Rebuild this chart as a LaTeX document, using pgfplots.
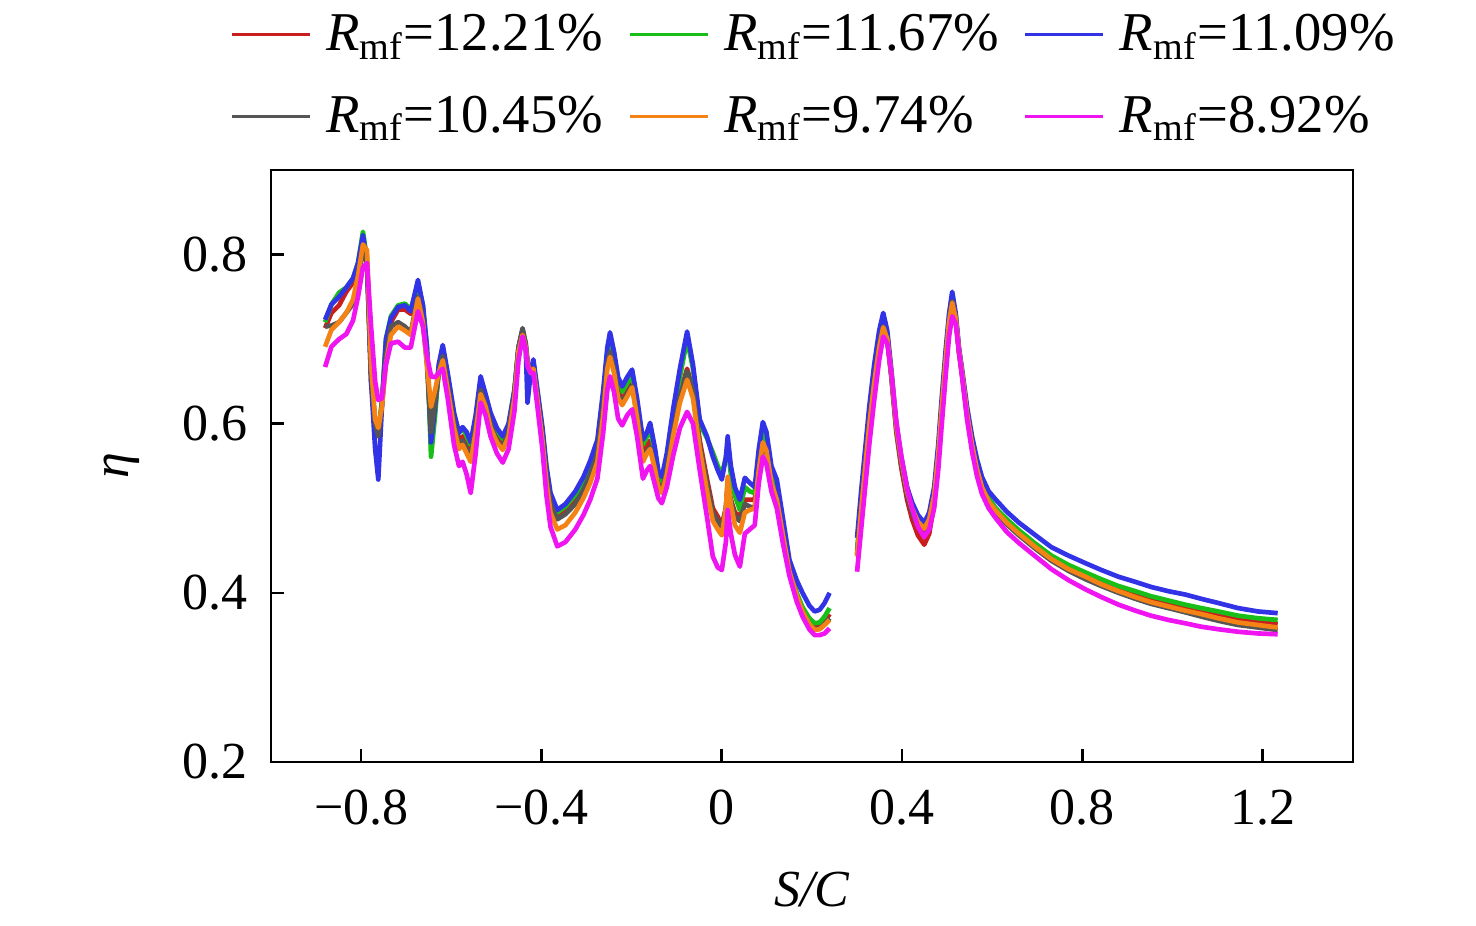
\documentclass[border=0pt]{standalone}
\usepackage{fontspec}
\setmainfont{Liberation Serif}
\usepackage{pgfplots}
\pgfplotsset{compat=1.18}
\usepackage{pgfplotstable}
\definecolor{cR}{RGB}{200,30,30}
\definecolor{cG}{RGB}{25,190,25}
\definecolor{cB}{RGB}{50,50,230}
\definecolor{cK}{RGB}{85,85,85}
\definecolor{cO}{RGB}{245,130,20}
\definecolor{cM}{RGB}{240,20,240}
\pgfplotstableread{
x b g r k o m
-0.880 0.723 0.720 0.713 0.715 0.691 0.667
-0.866 0.741 0.741 0.731 0.716 0.711 0.691
-0.849 0.750 0.755 0.740 0.720 0.720 0.700
-0.833 0.761 0.761 0.756 0.731 0.731 0.706
-0.818 0.772 0.772 0.767 0.742 0.747 0.722
-0.807 0.790 0.790 0.785 0.770 0.775 0.750
-0.796 0.823 0.827 0.818 0.805 0.812 0.785
-0.787 0.790 0.795 0.790 0.790 0.805 0.790
-0.778 0.650 0.660 0.650 0.660 0.670 0.715
-0.769 0.570 0.600 0.600 0.600 0.605 0.650
-0.762 0.534 0.590 0.590 0.585 0.595 0.628
-0.754 0.620 0.625 0.625 0.620 0.620 0.630
-0.745 0.700 0.700 0.690 0.680 0.670 0.670
-0.734 0.725 0.727 0.720 0.715 0.705 0.695
-0.718 0.738 0.740 0.735 0.720 0.715 0.697
-0.703 0.740 0.742 0.735 0.715 0.710 0.690
-0.690 0.733 0.735 0.730 0.708 0.705 0.690
-0.674 0.770 0.765 0.760 0.750 0.748 0.733
-0.663 0.740 0.740 0.735 0.720 0.720 0.715
-0.654 0.690 0.690 0.680 0.670 0.670 0.680
-0.645 0.578 0.561 0.580 0.590 0.620 0.656
-0.636 0.620 0.610 0.620 0.625 0.640 0.655
-0.628 0.670 0.665 0.660 0.660 0.660 0.660
-0.619 0.693 0.690 0.685 0.680 0.675 0.665
-0.608 0.660 0.655 0.650 0.645 0.640 0.630
-0.594 0.613 0.610 0.605 0.600 0.595 0.575
-0.583 0.589 0.590 0.580 0.575 0.570 0.550
-0.575 0.596 0.595 0.585 0.580 0.575 0.555
-0.566 0.590 0.585 0.575 0.570 0.565 0.540
-0.557 0.578 0.575 0.565 0.560 0.555 0.518
-0.546 0.610 0.605 0.600 0.595 0.590 0.565
-0.535 0.656 0.650 0.645 0.640 0.635 0.625
-0.524 0.635 0.632 0.628 0.622 0.620 0.610
-0.513 0.613 0.610 0.605 0.600 0.595 0.585
-0.499 0.595 0.592 0.587 0.580 0.578 0.565
-0.486 0.585 0.582 0.578 0.572 0.569 0.554
-0.473 0.600 0.598 0.595 0.590 0.585 0.570
-0.460 0.640 0.640 0.635 0.635 0.630 0.615
-0.451 0.690 0.690 0.690 0.690 0.685 0.675
-0.442 0.711 0.710 0.710 0.713 0.705 0.703
-0.435 0.690 0.695 0.690 0.695 0.690 0.688
-0.431 0.625 0.670 0.670 0.675 0.670 0.668
-0.424 0.660 0.665 0.665 0.660 0.660 0.660
-0.418 0.676 0.672 0.668 0.665 0.665 0.660
-0.409 0.640 0.636 0.632 0.630 0.628 0.620
-0.398 0.596 0.592 0.588 0.585 0.580 0.570
-0.389 0.550 0.545 0.540 0.538 0.530 0.515
-0.380 0.518 0.514 0.508 0.505 0.495 0.478
-0.365 0.498 0.495 0.490 0.487 0.475 0.455
-0.347 0.505 0.502 0.497 0.493 0.480 0.460
-0.325 0.520 0.516 0.510 0.505 0.495 0.475
-0.307 0.537 0.532 0.527 0.522 0.512 0.492
-0.292 0.556 0.550 0.545 0.540 0.530 0.510
-0.276 0.581 0.575 0.568 0.565 0.555 0.535
-0.263 0.640 0.633 0.625 0.620 0.610 0.590
-0.254 0.690 0.683 0.675 0.670 0.665 0.640
-0.248 0.708 0.700 0.690 0.685 0.679 0.656
-0.239 0.685 0.678 0.670 0.665 0.660 0.637
-0.230 0.655 0.648 0.640 0.635 0.630 0.606
-0.221 0.644 0.638 0.628 0.625 0.622 0.598
-0.210 0.655 0.648 0.638 0.635 0.632 0.610
-0.199 0.664 0.657 0.648 0.645 0.643 0.617
-0.188 0.630 0.623 0.615 0.610 0.607 0.585
-0.175 0.581 0.575 0.565 0.560 0.555 0.535
-0.166 0.590 0.585 0.575 0.568 0.565 0.545
-0.159 0.601 0.594 0.580 0.572 0.570 0.550
-0.148 0.570 0.565 0.555 0.548 0.545 0.527
-0.141 0.545 0.540 0.533 0.527 0.525 0.512
-0.133 0.537 0.532 0.525 0.520 0.518 0.506
-0.122 0.565 0.560 0.550 0.545 0.540 0.525
-0.108 0.617 0.610 0.595 0.590 0.585 0.562
-0.093 0.665 0.655 0.635 0.632 0.625 0.595
-0.077 0.709 0.700 0.665 0.662 0.652 0.614
-0.064 0.670 0.665 0.640 0.640 0.630 0.600
-0.049 0.605 0.600 0.580 0.575 0.570 0.545
-0.033 0.585 0.583 0.535 0.530 0.520 0.490
-0.020 0.561 0.566 0.500 0.495 0.485 0.443
-0.009 0.545 0.550 0.490 0.485 0.475 0.430
0.000 0.534 0.540 0.480 0.478 0.468 0.427
0.009 0.560 0.560 0.500 0.500 0.500 0.460
0.013 0.585 0.575 0.530 0.525 0.537 0.498
0.020 0.550 0.540 0.510 0.510 0.505 0.470
0.029 0.525 0.515 0.495 0.490 0.480 0.445
0.040 0.510 0.498 0.490 0.485 0.471 0.431
0.051 0.536 0.525 0.510 0.505 0.495 0.470
0.062 0.530 0.520 0.510 0.502 0.498 0.475
0.073 0.525 0.518 0.510 0.500 0.500 0.480
0.082 0.570 0.560 0.550 0.545 0.545 0.530
0.091 0.602 0.592 0.582 0.575 0.578 0.561
0.099 0.590 0.580 0.572 0.565 0.568 0.552
0.110 0.550 0.542 0.535 0.530 0.530 0.520
0.122 0.534 0.525 0.515 0.510 0.510 0.500
0.135 0.490 0.480 0.475 0.470 0.470 0.460
0.150 0.439 0.430 0.428 0.425 0.425 0.420
0.166 0.415 0.400 0.398 0.395 0.397 0.390
0.179 0.400 0.383 0.380 0.377 0.378 0.372
0.194 0.385 0.370 0.365 0.362 0.363 0.357
0.206 0.378 0.364 0.360 0.357 0.356 0.350
0.217 0.380 0.365 0.361 0.358 0.357 0.350
0.228 0.388 0.372 0.366 0.363 0.362 0.352
0.239 0.400 0.382 0.375 0.370 0.368 0.358
0.270 nan nan nan nan nan nan
0.300 0.465 0.450 0.445 0.445 0.443 0.425
0.309 0.520 0.505 0.500 0.500 0.497 0.475
0.318 0.570 0.557 0.552 0.550 0.548 0.525
0.327 0.620 0.607 0.600 0.600 0.598 0.575
0.338 0.670 0.658 0.652 0.650 0.648 0.628
0.349 0.710 0.700 0.695 0.692 0.690 0.675
0.358 0.731 0.722 0.718 0.715 0.714 0.703
0.367 0.710 0.703 0.700 0.700 0.700 0.695
0.376 0.664 0.658 0.655 0.657 0.660 0.660
0.387 0.600 0.595 0.590 0.595 0.598 0.603
0.398 0.561 0.555 0.548 0.553 0.558 0.562
0.411 0.525 0.518 0.510 0.515 0.520 0.523
0.422 0.507 0.498 0.487 0.495 0.500 0.500
0.435 0.492 0.482 0.468 0.478 0.484 0.478
0.449 0.483 0.471 0.457 0.470 0.476 0.466
0.460 0.495 0.485 0.470 0.482 0.487 0.475
0.471 0.525 0.515 0.505 0.512 0.515 0.500
0.480 0.575 0.565 0.555 0.562 0.563 0.545
0.488 0.632 0.623 0.613 0.620 0.620 0.600
0.497 0.690 0.682 0.673 0.678 0.678 0.660
0.504 0.730 0.722 0.715 0.720 0.720 0.703
0.511 0.756 0.748 0.743 0.745 0.743 0.727
0.519 0.730 0.726 0.722 0.724 0.724 0.718
0.526 0.690 0.687 0.684 0.686 0.687 0.685
0.533 0.664 0.660 0.657 0.658 0.660 0.655
0.544 0.620 0.614 0.610 0.610 0.612 0.605
0.555 0.585 0.578 0.573 0.573 0.575 0.567
0.566 0.558 0.550 0.545 0.545 0.546 0.538
0.577 0.537 0.529 0.524 0.524 0.525 0.517
0.592 0.520 0.512 0.508 0.507 0.508 0.500
0.608 0.510 0.500 0.497 0.495 0.497 0.488
0.632 0.496 0.487 0.483 0.481 0.483 0.472
0.659 0.483 0.474 0.470 0.468 0.470 0.459
0.696 0.468 0.458 0.454 0.452 0.454 0.443
0.731 0.454 0.444 0.440 0.438 0.440 0.428
0.769 0.444 0.433 0.429 0.426 0.428 0.415
0.807 0.435 0.424 0.420 0.416 0.419 0.404
0.842 0.427 0.416 0.412 0.408 0.410 0.395
0.880 0.419 0.408 0.404 0.400 0.402 0.386
0.917 0.413 0.402 0.397 0.393 0.395 0.379
0.952 0.407 0.396 0.391 0.387 0.389 0.373
0.990 0.402 0.391 0.386 0.382 0.384 0.368
1.028 0.398 0.386 0.381 0.377 0.379 0.364
1.063 0.393 0.382 0.377 0.372 0.375 0.360
1.101 0.388 0.378 0.373 0.367 0.370 0.357
1.145 0.382 0.373 0.368 0.362 0.365 0.354
1.189 0.378 0.370 0.365 0.359 0.362 0.352
1.233 0.376 0.368 0.363 0.356 0.359 0.351
}\datatab
\newcommand{\fs}{\fontsize{15.6}{18.7}\selectfont}
\newcommand{\fl}{\fontsize{16.4}{19.7}\selectfont}
\begin{document}
\begin{tikzpicture}
\path[use as bounding box] (-81.3pt,-49.2pt) rectangle (361.5pt,228.6pt);
\begin{axis}[
  at={(0pt,0pt)}, anchor=south west,
  scale only axis, width=324.6pt, height=177.6pt,
  xmin=-1, xmax=1.4, ymin=0.2, ymax=0.9,
  xtick={-0.8,-0.4,0,0.4,0.8,1.2},
  xticklabels={−0.8,−0.4,0,0.4,0.8,1.2},
  ytick={0.2,0.4,0.6,0.8},
  yticklabels={0.2,0.4,0.6,0.8},
  tick pos=left, tick align=inside,
  major tick length=3.9pt,
  axis line style={line width=0.8pt},
  every tick/.style={black, line width=0.8pt},
  tick label style={font=\fs},
  label style={font=\fs},
  xticklabel style={anchor=base, yshift=-18.9pt, inner sep=0pt},
  yticklabel style={anchor=east, xshift=-6.9pt, inner sep=0pt},
  xlabel={\textit{S/C}},
  ylabel={\textit{η}},
  x label style={at={(axis description cs:0.5,0)}, anchor=base, yshift=-43.5pt, inner sep=0pt},
  y label style={at={(axis description cs:0,0.5)}, anchor=south, yshift=39.3pt, inner sep=0pt},
  unbounded coords=jump,
  legend columns=3,
  legend style={at={(axis description cs:0.5,1)}, anchor=south, yshift=5.2pt, xshift=1.4pt,
    draw=none, fill=none, font=\fl, cells={anchor=west}, nodes={inner sep=2.5pt},
    /tikz/every odd column/.append style={column sep=2pt},
    /tikz/every even column/.append style={column sep=5pt}, row sep=7pt},
  legend image code/.code={\draw[#1, line width=0.9pt] (0pt,0pt) -- (23.4pt,0pt);},
  every axis plot/.append style={line width=1.4pt, line join=round},
]
\addplot[cR] table[x=x, y=r] {\datatab};
\addlegendentry{\textit{R}\textsubscript{mf}=12.21\%}
\addplot[cG] table[x=x, y=g] {\datatab};
\addlegendentry{\textit{R}\textsubscript{mf}=11.67\%}
\addplot[cB] table[x=x, y=b] {\datatab};
\addlegendentry{\textit{R}\textsubscript{mf}=11.09\%}
\addplot[cK] table[x=x, y=k] {\datatab};
\addlegendentry{\textit{R}\textsubscript{mf}=10.45\%}
\addplot[cO] table[x=x, y=o] {\datatab};
\addlegendentry{\textit{R}\textsubscript{mf}=9.74\%}
\addplot[cM] table[x=x, y=m] {\datatab};
\addlegendentry{\textit{R}\textsubscript{mf}=8.92\%}
\end{axis}
\end{tikzpicture}
\end{document}
